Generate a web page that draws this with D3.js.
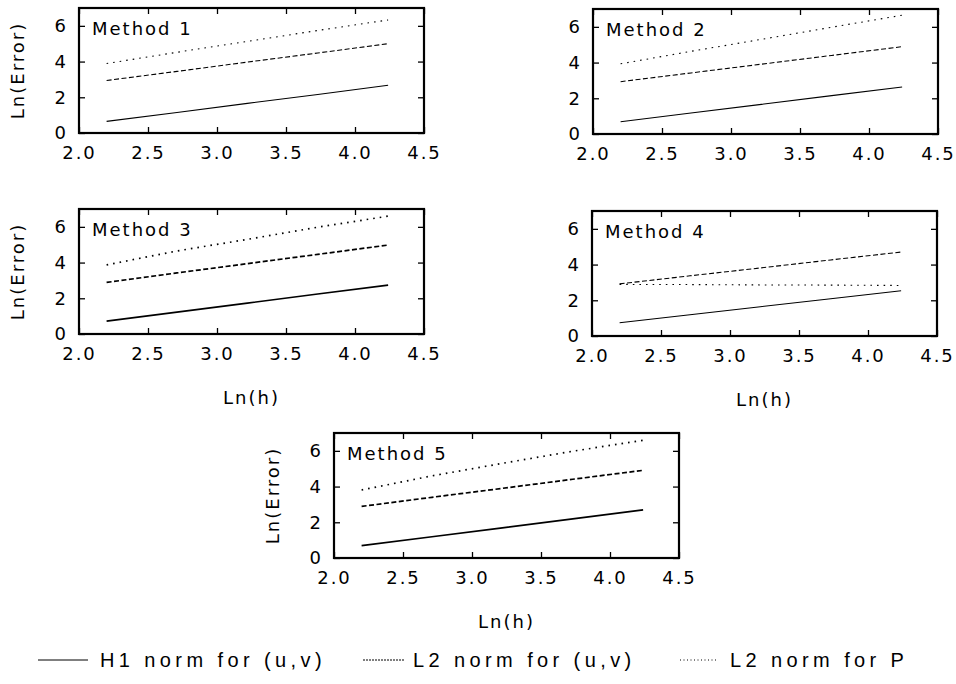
<!DOCTYPE html>
<html>
<head>
<meta charset="utf-8">
<script src="https://cdn.jsdelivr.net/npm/d3@7"></script>
<style>
	body { margin: 0; background: #fff; }
	svg { display: block; }
	.tickText { font-family: "DejaVu Sans", sans-serif; font-size: 18px; letter-spacing: 2px; fill: #000; }
	.axisLabel { font-family: "DejaVu Sans", sans-serif; font-size: 18px; letter-spacing: 2px; fill: #000; }
	.legendText { font-family: "Liberation Sans", sans-serif; font-size: 20px; letter-spacing: 4.4px; fill: #000; }
</style>
</head>
<body>
<svg id="chart" width="956" height="684"></svg>
<script>
// ln(h) sample points shared by all methods
var lnH = [2.2, 2.71, 3.22, 3.73, 4.24];

var methods = ["Method 1", "Method 2", "Method 3", "Method 4", "Method 5"];

// ln(error) values, one array per method and norm
var h1Norm = [
	[0.65, 1.15, 1.66, 2.16, 2.67],
	[0.69, 1.18, 1.66, 2.15, 2.63],
	[0.72, 1.22, 1.73, 2.24, 2.74],
	[0.74, 1.19, 1.64, 2.09, 2.53],
	[0.69, 1.19, 1.69, 2.19, 2.69]
];
var l2NormUV = [
	[2.94, 3.45, 3.97, 4.48, 5.00],
	[2.93, 3.42, 3.91, 4.40, 4.89],
	[2.89, 3.42, 3.94, 4.46, 4.98],
	[2.92, 3.37, 3.81, 4.26, 4.70],
	[2.89, 3.40, 3.90, 4.41, 4.91]
];
var l2NormP = [
	[3.89, 4.52, 5.13, 5.74, 6.33],
	[3.93, 4.63, 5.30, 5.98, 6.65],
	[3.87, 4.65, 5.30, 5.98, 6.60],
	[2.89, 2.88, 2.86, 2.85, 2.83],
	[3.81, 4.60, 5.30, 5.98, 6.59]
];

var xTicks = [2.0, 2.5, 3.0, 3.5, 4.0, 4.5];
var yTicks = [0, 2, 4, 6];
var legendLabels = ["H1 norm for (u,v)", "L2 norm for (u,v)", "L2 norm for P"];

// panel boxes in pixels (left, top) and which titles they carry
var panels = [
	{left: 79,  top: 8,   yTitle: true,  xTitle: false, thick: 1.1},
	{left: 593, top: 9,   yTitle: false, xTitle: false, thick: 1.1},
	{left: 79,  top: 209, yTitle: true,  xTitle: true,  thick: 1.7},
	{left: 592, top: 211, yTitle: false, xTitle: true,  thick: 1.1},
	{left: 334, top: 433, yTitle: true,  xTitle: true,  thick: 1.7}
];
var width = 345, height = 125;

var dashes = [null, "5,2.5", "1.6,5"];

var svg = d3.select("#chart");

var x = d3.scaleLinear().domain([2, 4.5]).range([0, width]);
var y = d3.scaleLinear().domain([0, 7]).range([height, 0]);

var line = d3.line()
	.x(function(d) { return x(d[0]); })
	.y(function(d) { return y(d[1]); });

panels.forEach(function(p, i) {
	var g = svg.append("g")
		.attr("transform", "translate(" + p.left + "," + p.top + ")");

	// bottom axis with labels, ticks pointing in
	var bottom = g.append("g")
		.attr("transform", "translate(0," + height + ")")
		.call(d3.axisBottom(x).tickValues(xTicks).tickSizeInner(-6).tickSizeOuter(0)
			.tickPadding(13).tickFormat(d3.format(".1f")));
	// top axis, ticks only
	var top = g.append("g")
		.call(d3.axisTop(x).tickValues(xTicks).tickSizeInner(-6).tickSizeOuter(0).tickFormat(""));
	var left = g.append("g")
		.call(d3.axisLeft(y).tickValues(yTicks).tickSizeInner(-6).tickSizeOuter(0)
			.tickPadding(11).tickFormat(d3.format("d")));
	var right = g.append("g")
		.attr("transform", "translate(" + width + ",0)")
		.call(d3.axisRight(y).tickValues(yTicks).tickSizeInner(-6).tickSizeOuter(0).tickFormat(""));

	[bottom, top, left, right].forEach(function(a) {
		a.select(".domain").remove();
		a.selectAll("line").attr("stroke", "#000").attr("stroke-width", 1.3);
		a.selectAll("text").attr("class", "tickText").attr("font-size", null).attr("font-family", null);
	});

	// the three norms
	var series = [h1Norm[i], l2NormUV[i], l2NormP[i]];
	series.forEach(function(vals, s) {
		g.append("path")
			.datum(lnH.map(function(h, k) { return [h, vals[k]]; }))
			.attr("fill", "none")
			.attr("stroke", "#000")
			.attr("stroke-width", p.thick)
			.attr("stroke-dasharray", dashes[s])
			.attr("d", line);
	});

	// frame
	g.append("rect")
		.attr("width", width)
		.attr("height", height)
		.attr("fill", "none")
		.attr("stroke", "#000")
		.attr("stroke-width", 2.2);

	g.append("text")
		.attr("class", "axisLabel")
		.attr("x", 13)
		.attr("y", 27)
		.attr("font-size", "17px")
		.text(methods[i]);

	if (p.yTitle) {
		g.append("text")
			.attr("class", "axisLabel")
			.attr("transform", "translate(" + (-55) + "," + (height / 2) + ") rotate(-90)")
			.style("text-anchor", "middle")
			.text("Ln(Error)");
	}
	if (p.xTitle) {
		g.append("text")
			.attr("class", "axisLabel")
			.attr("x", width / 2)
			.attr("y", height + 70)
			.style("text-anchor", "middle")
			.text("Ln(h)");
	}
});

// legend along the bottom
var legendItems = [
	{x1: 38, x2: 88, tx: 100},
	{x1: 363, x2: 405, tx: 413},
	{x1: 680, x2: 718, tx: 730}
];
var legendY = 660;
legendItems.forEach(function(it, s) {
	svg.append("line")
		.attr("x1", it.x1).attr("x2", it.x2)
		.attr("y1", legendY).attr("y2", legendY)
		.attr("stroke", "#000")
		.attr("stroke-width", 1)
		.attr("stroke-dasharray", s === 0 ? null : (s === 1 ? "2,1" : "1,2.5"));
	svg.append("text")
		.attr("class", "legendText")
		.attr("x", it.tx)
		.attr("y", legendY + 7)
		.text(legendLabels[s]);
});
</script>
</body>
</html>
